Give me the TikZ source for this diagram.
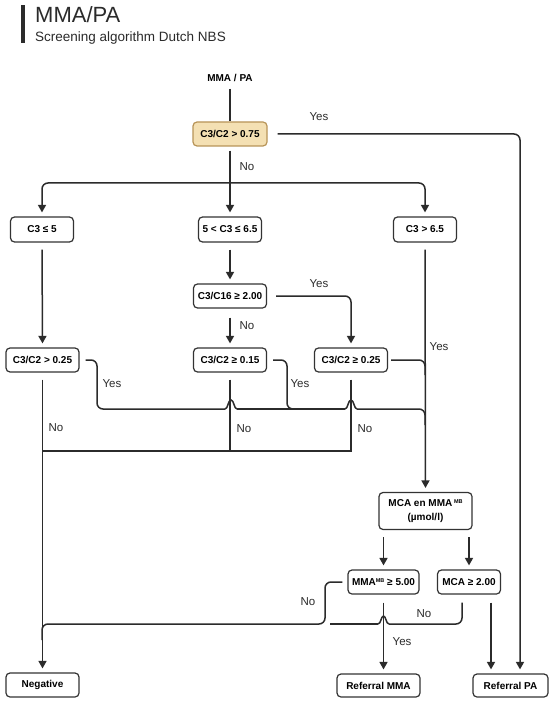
\documentclass[tikz,border=0pt]{standalone}
\usepackage{fontspec}
\setmainfont{Liberation Sans}
\usetikzlibrary{arrows.meta}
\definecolor{lc}{HTML}{2B2B2B}
\definecolor{bc}{HTML}{333333}
\definecolor{tanfill}{HTML}{F4E0B3}
\definecolor{tandraw}{HTML}{B89457}
\newcommand{\supMB}{\raisebox{3.6pt}{\fontsize{5.5}{6}\selectfont MB}}
\begin{document}
\begin{tikzpicture}[x=1pt,y=-1pt,
  ln/.style={line width=1.5pt, draw=lc},
  arr/.style={ln, -{Triangle[length=7.5pt,width=8pt]}, shorten >=4pt},
  box/.style={draw=bc, line width=1.2pt, rounded corners=4pt, fill=white,
    font=\fontsize{10}{14}\selectfont\bfseries, inner sep=1pt, minimum height=24pt, align=center},
  lab/.style={font=\fontsize{11.5}{13}\selectfont, text=lc, inner sep=0pt},
  rc/.style={rounded corners=6pt}
]
\useasboundingbox (0,0) rectangle (550,703);
\fill[white] (0,0) rectangle (550,703);

% title
\fill[lc] (21,5) rectangle (25,43);
\node[anchor=base west, inner sep=0pt, font=\fontsize{22}{24}\selectfont, text=lc] (title) at (35,23) {MMA/PA};
\node[anchor=base west, inner sep=0pt, font=\fontsize{13.5}{15}\selectfont, text=lc] (sub) at (35,41.7) {Screening algorithm Dutch NBS};

% nodes
\node[inner sep=0pt, font=\fontsize{10}{12}\selectfont\bfseries] (top) at (230,78) {MMA / PA};
\node[box, fill=tanfill, draw=tandraw, minimum width=74pt] (q1) at (230,134) {C3/C2 > 0.75};
\node[box, minimum width=63pt, minimum height=25pt] (b1) at (42,229.5) {C3 ≤ 5};
\node[box, minimum width=63pt, minimum height=25pt] (b2) at (230,229.5) {5 < C3 ≤ 6.5};
\node[box, minimum width=63pt, minimum height=25pt] (b3) at (425,229.5) {C3 > 6.5};
\node[box, minimum width=73pt] (q2) at (230,296) {C3/C16 ≥ 2.00};
\node[box, minimum width=73pt] (c1) at (42.5,360) {C3/C2 > 0.25};
\node[box, minimum width=73pt] (c2) at (230,360) {C3/C2 ≥ 0.15};
\node[box, minimum width=73pt] (c3) at (351,360) {C3/C2 ≥ 0.25};
\node[box, minimum width=93pt, minimum height=37pt] (mca) at (425.5,511) {MCA en MMA\,\supMB\\(µmol/l)};
\node[box, minimum width=71pt] (m1) at (383.5,582) {MMA\supMB\ ≥ 5.00};
\node[box, minimum width=63pt] (m2) at (469,582) {MCA ≥ 2.00};
\node[box, minimum width=73pt] (neg) at (42.5,685) {Negative};
\node[box, minimum width=83pt, minimum height=23pt] (rmma) at (378.5,685.5) {Referral MMA};
\node[box, minimum width=75pt, minimum height=23pt] (rpa) at (510.5,685.5) {Referral PA};

% helper coordinates
\coordinate (br) at (230,183);
\coordinate (yesPA) at (520,134);

% top
\draw[ln, shorten <=7pt] (top.south) -- (q1.north);
% q1 yes -> Referral PA
\draw[arr, rc, shorten <=10pt] (q1.east) -- (yesPA) -- (yesPA |- rpa.north);
\node[lab] (y1) at (319,117) {Yes};
% q1 no
\draw[arr, shorten <=4pt] (q1.south) -- (b2.north);
\node[lab] (n1) at (247,167) {No};
\draw[arr, rc] (br) -| (b1.north);
\draw[arr, rc] (br) -| (b3.north);

% middle
\draw[arr, shorten <=7pt] (b2.south) -- (q2.north);
\draw[arr, shorten <=7pt] (b1.south) -- (c1.north);
\draw[arr, rc, shorten <=9pt] (q2.east) -| (c3.north);
\node[lab] (y2) at (319,284) {Yes};
\draw[arr, shorten <=9pt] (q2.south) -- (c2.north);
\node[lab] (n2) at (247,326) {No};
\draw[arr, shorten <=7pt] (b3.south) -- (mca.north);

% yes lines of row c
\draw[ln, rc, shorten <=6pt] (c1.east) -- (97,360) -- (97,409) -- (225,409);
\draw[ln] (225,409) .. controls (228,409) and (228,400) .. (231,400) .. controls (234,400) and (234,409) .. (237,409);
\draw[ln] (237,409) -- (345,409);
\draw[ln] (345,409) .. controls (348,409) and (348,400) .. (351,400) .. controls (354,400) and (354,409) .. (357,409);
\draw[ln, rc] (357,409) -- (425,409) -- (425,425);
\draw[ln, rc, shorten <=6pt] (c2.east) -- (287,360) -- (287,409) -- (300,409);
\draw[ln, rc, shorten <=3pt] (c3.east) -- (425,360) -- (425,375);
\node[lab] (y3) at (112,384) {Yes};
\node[lab] (y4) at (300,384) {Yes};
\node[lab] (y5) at (439,347) {Yes};

% no lines of row c
\draw[arr, shorten <=7pt] (c1.south) -- (c1.south |- neg.north);
\draw[ln, shorten <=7pt] (c3.south) |- (42,451);
\draw[ln, shorten <=7pt] (c2.south) -- (230,451);
\node[lab] (n3) at (56,428) {No};
\node[lab] (n4) at (244,429) {No};
\node[lab] (n5) at (365,429) {No};

% mca
\draw[arr, shorten <=7pt] (m1.north |- mca.south) -- (m1.north);
\draw[arr, shorten <=7pt] (m2.north |- mca.south) -- (m2.north);

% m1
\draw[ln, rc, shorten <=5pt] (m1.west) -- (325,582) -- (325,624) -- (42,624) -- (42,640);
\node[lab] (n6) at (308,602) {No};
\draw[arr, shorten <=8pt] (m1.south) -- (m1.south |- rmma.north);
\node[lab] (y6) at (402,642) {Yes};

% m2
\draw[ln, rc, shorten <=8pt] ([xshift=-7pt]m2.south) -- (462,624) -- (389,624);
\draw[ln] (389,624) .. controls (386,624) and (386,616) .. (383.5,616) .. controls (381,616) and (381,624) .. (378,624);
\draw[ln] (378,624) -- (330,624);
\node[lab] (n7) at (424,614) {No};
\draw[arr, shorten <=8pt] ([xshift=22pt]m2.south) -- ([xshift=22pt]m2.south |- rpa.north);
\end{tikzpicture}
\end{document}
